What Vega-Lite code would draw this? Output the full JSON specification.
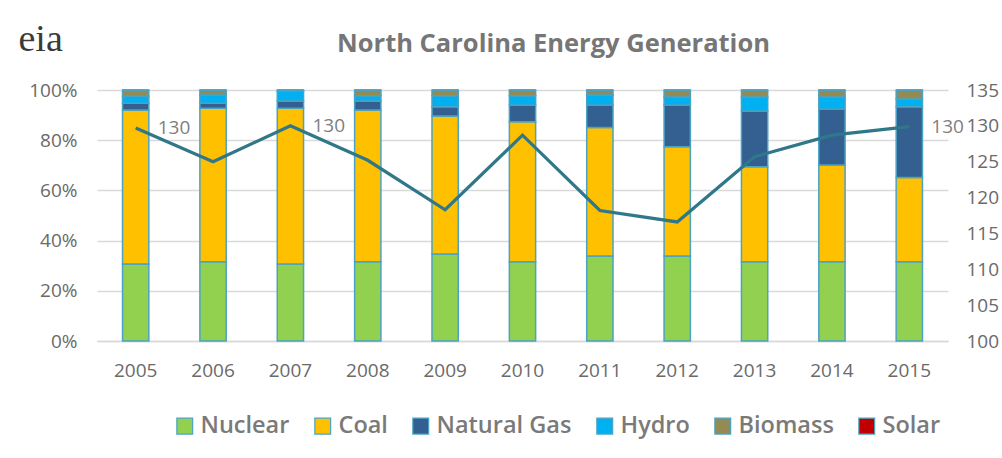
{
  "$schema": "https://vega.github.io/schema/vega-lite/v6.json",
  "autosize": {"type": "none"},
  "width": 851,
  "height": 251,
  "padding": {"left": 97, "top": 90, "right": 54, "bottom": 117},
  "background": "white",
  "title": {
    "text": "North Carolina Energy Generation",
    "font": "Open Sans",
    "fontSize": 25.5,
    "fontWeight": "bold",
    "color": "#767676",
    "anchor": "middle",
    "dx": 31,
    "offset": -37
  },
  "datasets": {
    "bars": [
      {"year": "2005", "source": "Nuclear", "pct": 30.7},
      {"year": "2005", "source": "Coal", "pct": 61.3},
      {"year": "2005", "source": "Natural Gas", "pct": 2.7},
      {"year": "2005", "source": "Hydro", "pct": 2.8},
      {"year": "2005", "source": "Biomass", "pct": 2.5},
      {"year": "2005", "source": "Solar", "pct": 0},
      {"year": "2006", "source": "Nuclear", "pct": 31.6},
      {"year": "2006", "source": "Coal", "pct": 61.1},
      {"year": "2006", "source": "Natural Gas", "pct": 2.0},
      {"year": "2006", "source": "Hydro", "pct": 3.3},
      {"year": "2006", "source": "Biomass", "pct": 2.0},
      {"year": "2006", "source": "Solar", "pct": 0},
      {"year": "2007", "source": "Nuclear", "pct": 30.7},
      {"year": "2007", "source": "Coal", "pct": 62.0},
      {"year": "2007", "source": "Natural Gas", "pct": 2.9},
      {"year": "2007", "source": "Hydro", "pct": 4.0},
      {"year": "2007", "source": "Biomass", "pct": 0.4},
      {"year": "2007", "source": "Solar", "pct": 0},
      {"year": "2008", "source": "Nuclear", "pct": 31.6},
      {"year": "2008", "source": "Coal", "pct": 60.4},
      {"year": "2008", "source": "Natural Gas", "pct": 3.6},
      {"year": "2008", "source": "Hydro", "pct": 2.1},
      {"year": "2008", "source": "Biomass", "pct": 2.3},
      {"year": "2008", "source": "Solar", "pct": 0},
      {"year": "2009", "source": "Nuclear", "pct": 34.7},
      {"year": "2009", "source": "Coal", "pct": 54.9},
      {"year": "2009", "source": "Natural Gas", "pct": 3.7},
      {"year": "2009", "source": "Hydro", "pct": 4.4},
      {"year": "2009", "source": "Biomass", "pct": 2.3},
      {"year": "2009", "source": "Solar", "pct": 0},
      {"year": "2010", "source": "Nuclear", "pct": 31.6},
      {"year": "2010", "source": "Coal", "pct": 55.8},
      {"year": "2010", "source": "Natural Gas", "pct": 6.6},
      {"year": "2010", "source": "Hydro", "pct": 3.7},
      {"year": "2010", "source": "Biomass", "pct": 2.3},
      {"year": "2010", "source": "Solar", "pct": 0},
      {"year": "2011", "source": "Nuclear", "pct": 33.9},
      {"year": "2011", "source": "Coal", "pct": 51.2},
      {"year": "2011", "source": "Natural Gas", "pct": 8.9},
      {"year": "2011", "source": "Hydro", "pct": 4.0},
      {"year": "2011", "source": "Biomass", "pct": 2.0},
      {"year": "2011", "source": "Solar", "pct": 0},
      {"year": "2012", "source": "Nuclear", "pct": 33.9},
      {"year": "2012", "source": "Coal", "pct": 43.5},
      {"year": "2012", "source": "Natural Gas", "pct": 16.6},
      {"year": "2012", "source": "Hydro", "pct": 3.2},
      {"year": "2012", "source": "Biomass", "pct": 2.8},
      {"year": "2012", "source": "Solar", "pct": 0},
      {"year": "2013", "source": "Nuclear", "pct": 31.6},
      {"year": "2013", "source": "Coal", "pct": 37.8},
      {"year": "2013", "source": "Natural Gas", "pct": 22.2},
      {"year": "2013", "source": "Hydro", "pct": 5.6},
      {"year": "2013", "source": "Biomass", "pct": 2.8},
      {"year": "2013", "source": "Solar", "pct": 0},
      {"year": "2014", "source": "Nuclear", "pct": 31.6},
      {"year": "2014", "source": "Coal", "pct": 38.5},
      {"year": "2014", "source": "Natural Gas", "pct": 22.3},
      {"year": "2014", "source": "Hydro", "pct": 4.8},
      {"year": "2014", "source": "Biomass", "pct": 2.8},
      {"year": "2014", "source": "Solar", "pct": 0},
      {"year": "2015", "source": "Nuclear", "pct": 31.6},
      {"year": "2015", "source": "Coal", "pct": 33.5},
      {"year": "2015", "source": "Natural Gas", "pct": 28.2},
      {"year": "2015", "source": "Hydro", "pct": 3.1},
      {"year": "2015", "source": "Biomass", "pct": 3.6},
      {"year": "2015", "source": "Solar", "pct": 0}
    ],
    "total": [
      {"year": "2005", "total": 129.7, "labeled": true},
      {"year": "2006", "total": 125.0, "labeled": false},
      {"year": "2007", "total": 130.0, "labeled": true},
      {"year": "2008", "total": 125.2, "labeled": false},
      {"year": "2009", "total": 118.3, "labeled": false},
      {"year": "2010", "total": 128.7, "labeled": false},
      {"year": "2011", "total": 118.2, "labeled": false},
      {"year": "2012", "total": 116.6, "labeled": false},
      {"year": "2013", "total": 125.7, "labeled": false},
      {"year": "2014", "total": 128.7, "labeled": false},
      {"year": "2015", "total": 129.9, "labeled": true}
    ]
  },
  "config": {
    "font": "Open Sans",
    "view": {"stroke": null},
    "axis": {"labelColor": "#6a6a6a", "labelFont": "Open Sans", "labelFontSize": 19, "ticks": false, "tickSize": 0}
  },
  "layer": [
    {
      "data": {"name": "bars"},
      "transform": [
        {"calculate": "indexof(['Nuclear', 'Coal', 'Natural Gas', 'Hydro', 'Biomass', 'Solar'], datum.source)", "as": "stackOrder"}
      ],
      "mark": {"type": "bar", "stroke": "#4aa3c3", "strokeWidth": 1.5},
      "encoding": {
        "x": {
          "field": "year", "type": "ordinal",
          "scale": {"paddingInner": 0.66, "paddingOuter": 0.33},
          "axis": {"title": null, "labelAngle": 0, "labelPadding": 20, "domain": true, "domainColor": "#d9d9d9", "domainWidth": 1.5}
        },
        "y": {
          "field": "pct", "type": "quantitative", "stack": "normalize",
          "scale": {"domain": [0, 1]},
          "axis": {
            "orient": "left", "format": ".0%", "values": [0, 0.2, 0.4, 0.6, 0.8, 1],
            "grid": true, "gridColor": "#d9d9d9", "gridWidth": 1.5, "domain": false, "labelPadding": 20,
            "title": "eia", "titleFont": "Liberation Serif", "titleFontSize": 38, "titleFontWeight": "normal",
            "titleColor": "#3a3a3a", "titleAngle": 0, "titleX": -79, "titleY": -40,
            "titleAlign": "left", "titleBaseline": "alphabetic"
          }
        },
        "color": {
          "field": "source", "type": "nominal",
          "sort": ["Nuclear", "Coal", "Natural Gas", "Hydro", "Biomass", "Solar"],
          "scale": {
            "domain": ["Nuclear", "Coal", "Natural Gas", "Hydro", "Biomass", "Solar"],
            "range": ["#92D050", "#FFC000", "#335F91", "#00B0F0", "#948A54", "#C00000"]
          },
          "legend": {
            "title": null, "orient": "none", "direction": "horizontal",
            "legendX": 76, "legendY": 324,
            "symbolType": "square", "symbolSize": 250, "symbolStrokeColor": "#4aa3c3", "symbolStrokeWidth": 1.2,
            "labelFont": "Open Sans", "labelFontSize": 23.5, "labelFontWeight": 600, "labelColor": "#7a7a7a", "labelOffset": 4,
            "columnPadding": 21
          }
        },
        "order": {"field": "stackOrder", "type": "quantitative", "sort": "ascending"}
      }
    },
    {
      "data": {"name": "total"},
      "encoding": {
        "x": {"field": "year", "type": "ordinal"},
        "y": {
          "field": "total", "type": "quantitative",
          "scale": {"domain": [100, 135]},
          "axis": {"orient": "right", "values": [100, 105, 110, 115, 120, 125, 130, 135], "grid": false, "domain": false, "labelPadding": 18, "title": null}
        }
      },
      "layer": [
        {"mark": {"type": "line", "color": "#2F7789", "strokeWidth": 3.2}},
        {
          "transform": [{"filter": "datum.labeled"}],
          "mark": {"type": "text", "align": "left", "baseline": "middle", "dx": 22, "fontSize": 19, "color": "#7f7f7f", "font": "Open Sans"},
          "encoding": {"text": {"field": "total", "type": "quantitative", "format": ".0f"}}
        }
      ]
    }
  ],
  "resolve": {"scale": {"y": "independent"}}
}
